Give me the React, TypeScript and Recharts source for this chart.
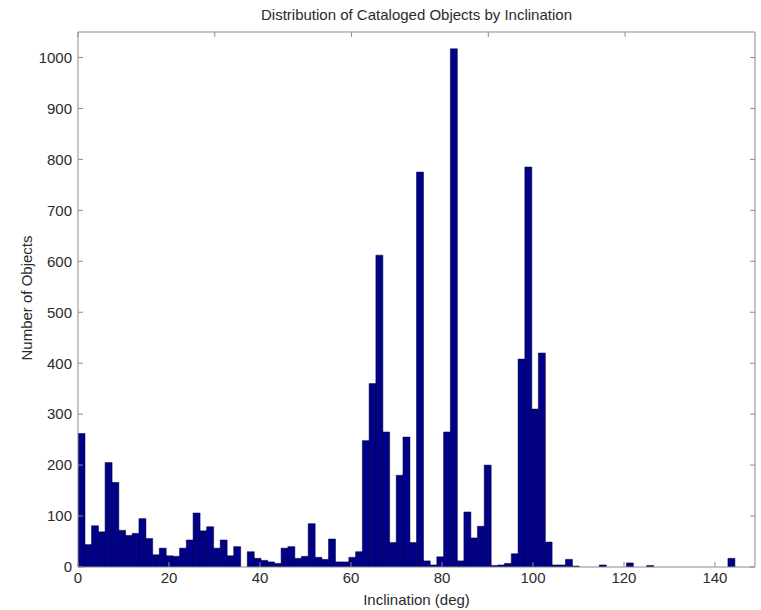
import { BarChart, Bar, XAxis, YAxis } from 'recharts';

// histogram: 100 bins of ~1.488 deg each, counts
const BIN_WIDTH = 1.488;
const X_MAX = 148.8;

const counts = [
  262, 44, 81, 69, 205, 166, 72, 62, 66, 95,
  56, 24, 37, 22, 21, 37, 53, 106, 71, 79,
  37, 53, 22, 40, 0, 30, 17, 13, 10, 7,
  37, 40, 17, 21, 85, 19, 15, 55, 10, 10,
  19, 30, 248, 360, 612, 265, 48, 180, 255, 48,
  775, 12, 4, 20, 265, 1017, 12, 108, 57, 80,
  200, 3, 4, 7, 26, 408, 785, 310, 420, 49,
  4, 4, 15, 2, 0, 0, 0, 4, 0, 0,
  0, 8, 0, 0, 3, 0, 0, 0, 0, 0,
  0, 0, 0, 0, 0, 0, 17, 0, 0, 0,
];

const xTicks = [0, 20, 40, 60, 80, 100, 120, 140];
const yTicks = [0, 100, 200, 300, 400, 500, 600, 700, 800, 900, 1000];

const data = counts.map((count, i) => ({ incl: (i + 0.5) * BIN_WIDTH, count }));

const AXIS = '#8c8c8c';
const TEXT = '#2b2b2b';
const FONT = '"Liberation Sans", Arial, Helvetica, sans-serif';
const FS = 15;
const noLabel = () => '';

export default function App() {
  return (
    <div
      style={{
        position: 'absolute',
        left: 0,
        top: 0,
        width: 761,
        height: 610,
        background: '#fff',
        fontFamily: FONT,
        color: TEXT,
      }}
    >
      <div
        style={{
          position: 'absolute',
          top: 6,
          left: 78,
          width: 677,
          textAlign: 'center',
          fontSize: FS,
          lineHeight: '18px',
        }}
      >
        Distribution of Cataloged Objects by Inclination
      </div>

      <BarChart
        width={761}
        height={610}
        data={data}
        margin={{ top: 2, right: 0, bottom: 0, left: 0 }}
        barCategoryGap={0}
        barGap={0}
        style={{ fontFamily: FONT }}
      >
        <XAxis
          dataKey="incl"
          type="number"
          domain={[0, X_MAX]}
          allowDataOverflow
          ticks={xTicks}
          interval={0}
          height={43}
          tickSize={-5}
          tickMargin={10}
          stroke={AXIS}
          tick={{ fill: TEXT, fontSize: FS }}
        />
        <XAxis
          xAxisId="top"
          orientation="top"
          type="number"
          domain={[0, X_MAX]}
          allowDataOverflow
          ticks={xTicks}
          interval={0}
          height={30}
          tickSize={-5}
          stroke={AXIS}
          tickFormatter={noLabel}
        />
        <YAxis
          type="number"
          domain={[0, 1050]}
          allowDataOverflow
          ticks={yTicks}
          interval={0}
          width={78}
          tickSize={-5}
          tickMargin={11}
          stroke={AXIS}
          tick={{ fill: TEXT, fontSize: FS }}
        />
        <YAxis
          yAxisId="right"
          orientation="right"
          type="number"
          domain={[0, 1050]}
          allowDataOverflow
          ticks={yTicks}
          interval={0}
          width={6}
          tickSize={-5}
          stroke={AXIS}
          tickFormatter={noLabel}
        />
        <Bar
          dataKey="count"
          fill="#000088"
          stroke="#000030"
          strokeWidth={0.5}
          isAnimationActive={false}
        />
      </BarChart>

      <div
        style={{
          position: 'absolute',
          left: 78,
          width: 677,
          top: 591,
          textAlign: 'center',
          fontSize: FS,
          lineHeight: '18px',
        }}
      >
        Inclination (deg)
      </div>
      <div
        style={{
          position: 'absolute',
          left: 27,
          top: 298,
          transform: 'translate(-50%, -50%) rotate(-90deg)',
          whiteSpace: 'nowrap',
          fontSize: FS,
          lineHeight: '18px',
        }}
      >
        Number of Objects
      </div>
    </div>
  );
}
